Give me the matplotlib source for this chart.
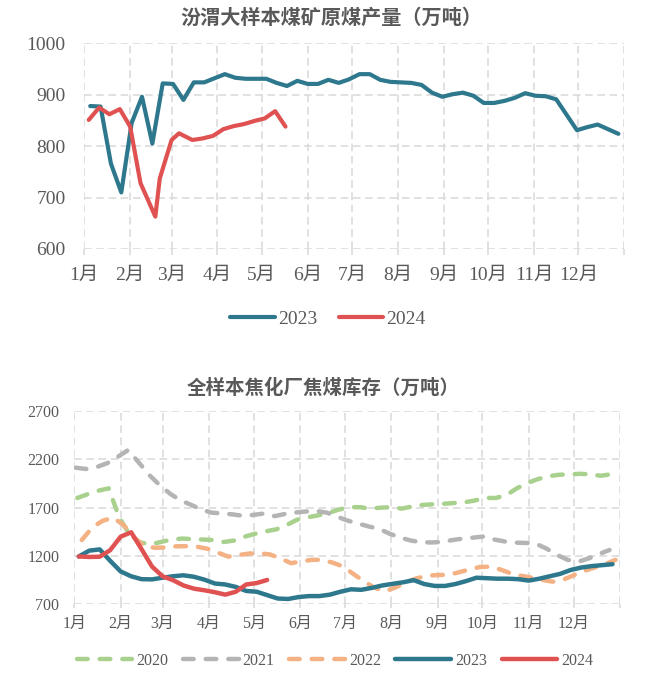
import matplotlib
matplotlib.use('Agg')
import matplotlib.pyplot as plt
import numpy as np

plt.rcParams['font.family'] = ['Liberation Serif', 'Noto Sans CJK SC', 'DejaVu Sans']

# ---------------- data ----------------
month_starts = [0, 31, 59, 90, 120, 151, 181, 212, 243, 273, 304, 334]
month_labels = ['1月', '2月', '3月', '4月', '5月', '6月', '7月', '8月', '9月', '10月', '11月', '12月']

title_top = '汾渭大样本煤矿原煤产量（万吨）'
title_bottom = '全样本焦化厂焦煤库存（万吨）'

# Top chart: raw coal output (weekly)
top_days_2023 = np.arange(4, 365, 7)
top_vals_2023 = [878, 877, 766, 710, 845, 896, 805, 922, 921, 890, 924, 924, 932, 940,
                 933, 931, 931, 931, 923, 917, 927, 921, 921, 929, 923, 930, 940, 940,
                 929, 925, 924, 923, 919, 904, 896, 901, 904, 898, 884, 884, 888, 894,
                 903, 898, 897, 891, 861, 831, 837, 842, 833, 824]
top_days_2024 = [3, 10, 17, 24, 31, 38, 48, 51, 59, 64, 73, 80, 87, 94, 101, 108, 115, 122, 129, 136]
top_vals_2024 = [851, 875, 862, 872, 838, 728, 663, 737, 812, 825, 812, 815, 820, 833,
                 839, 843, 849, 854, 868, 838]

# Bottom chart: coking coal inventory (weekly)
days_2020 = np.arange(2, 365, 7)
vals_2020 = [1800, 1840, 1875, 1900, 1600, 1420, 1340, 1320, 1345, 1370, 1380, 1375, 1370,
             1365, 1345, 1360, 1400, 1430, 1455, 1475, 1520, 1575, 1600, 1620, 1645, 1680,
             1705, 1705, 1690, 1700, 1705, 1690, 1712, 1728, 1735, 1740, 1748, 1755, 1775,
             1800, 1800, 1830, 1900, 1955, 1995, 2025, 2040, 2045, 2050, 2045, 2030, 2045]
days_2021 = np.arange(1, 365, 7)
vals_2021 = [2113, 2100, 2120, 2160, 2225, 2296, 2170, 2040, 1935, 1845, 1775, 1730, 1680,
             1648, 1640, 1630, 1615, 1625, 1640, 1612, 1635, 1650, 1660, 1665, 1648, 1605,
             1565, 1535, 1505, 1480, 1430, 1390, 1360, 1342, 1340, 1345, 1365, 1380, 1390,
             1402, 1370, 1350, 1338, 1335, 1325, 1275, 1210, 1160, 1140, 1175, 1220, 1262]
days_2022 = np.arange(5, 365, 7)
vals_2022 = [1365, 1495, 1565, 1596, 1520, 1390, 1300, 1285, 1288, 1300, 1302, 1296, 1275,
             1235, 1193, 1210, 1225, 1228, 1215, 1175, 1125, 1145, 1160, 1160, 1130, 1090,
             1010, 935, 870, 835, 875, 930, 969, 995, 1003, 1005, 1030, 1060, 1085, 1090,
             1060, 1020, 995, 975, 952, 934, 955, 1000, 1045, 1080, 1115, 1160]
days_2023 = np.arange(3, 365, 7)
vals_2023 = [1195, 1255, 1268, 1150, 1040, 990, 960, 958, 975, 990, 1000, 985, 955, 915,
             905, 880, 838, 830, 795, 760, 755, 775, 785, 785, 800, 830, 855, 850, 870, 895,
             912, 928, 950, 910, 890, 890, 910, 940, 975, 970, 965, 965, 960, 945, 965, 990,
             1015, 1055, 1080, 1095, 1105, 1115]
days_2024 = np.arange(3, 130, 7)
vals_2024 = [1195, 1190, 1192, 1260, 1400, 1445, 1270, 1090, 990, 950, 895, 862, 845, 825,
             800, 830, 905, 920, 952]

# ---------------- style ----------------
C_TEAL = '#2E788D'
C_RED = '#E05252'
C_GREEN = '#A9D18E'
C_GRAY = '#B4B4B4'
C_ORANGE = '#F4B183'
TXT = '#595959'
GRID = '#D9D9D9'

fig = plt.figure(figsize=(6.51, 6.81), dpi=100)
fig.patch.set_facecolor('white')

ax1 = fig.add_axes([84.3 / 651, 1 - 249 / 681, 540 / 651, 205.7 / 681])
ax2 = fig.add_axes([74.3 / 651, 1 - 604.3 / 681, 545.7 / 651, 193.3 / 681])


def style_axes(ax, ylim, yticks, fs, xpad, ypad, ticklen):
    ax.set_xlim(0, 365)
    ax.set_ylim(*ylim)
    ax.set_xticks(month_starts + [365])
    ax.set_xticklabels(month_labels + [''])
    ax.set_yticks(yticks)
    for s in ax.spines.values():
        s.set_visible(False)
    ax.set_axisbelow(True)
    ax.grid(True, color=GRID, lw=1.1, ls=(0, (5, 3)))
    ax.tick_params(axis='x', length=ticklen, width=1.1, color=GRID, pad=xpad,
                   labelsize=fs, labelcolor=TXT)
    ax.tick_params(axis='y', length=0, pad=ypad, labelsize=fs, labelcolor=TXT)


style_axes(ax1, (600, 1000), [600, 700, 800, 900, 1000], 14, 8.5, 13.5, 4.3)
style_axes(ax2, (700, 2700), [700, 1200, 1700, 2200, 2700], 11.5, 5.2, 10.8, 3)

lw_top = 3.0
ax1.plot(top_days_2023, top_vals_2023, color=C_TEAL, lw=lw_top, label='2023',
         solid_capstyle='round', solid_joinstyle='round')
ax1.plot(top_days_2024, top_vals_2024, color=C_RED, lw=lw_top, label='2024',
         solid_capstyle='round', solid_joinstyle='round')

lw_b = 3.2
dash = (2.4, 2.7)
for d, v, c, lab in [(days_2020, vals_2020, C_GREEN, '2020'),
                     (days_2021, vals_2021, C_GRAY, '2021'),
                     (days_2022, vals_2022, C_ORANGE, '2022')]:
    ax2.plot(d, v, color=c, lw=lw_b, label=lab, linestyle=(0, dash),
             dash_capstyle='round', dash_joinstyle='round')
ax2.plot(days_2023, vals_2023, color=C_TEAL, lw=lw_b, label='2023',
         solid_capstyle='round', solid_joinstyle='round')
ax2.plot(days_2024, vals_2024, color=C_RED, lw=lw_b, label='2024',
         solid_capstyle='round', solid_joinstyle='round')

fig.text(331 / 651, 1 - 17 / 681, title_top, ha='center', va='center', fontsize=14.5,
         color=TXT, fontweight='bold', family=['Noto Sans CJK SC', 'DejaVu Sans'])
fig.text(323 / 651, 1 - 388 / 681, title_bottom, ha='center', va='center', fontsize=14,
         color=TXT, fontweight='bold', family=['Noto Sans CJK SC', 'DejaVu Sans'])

h1, l1 = ax1.get_legend_handles_labels()
leg1 = fig.legend(h1, l1, loc='center', bbox_to_anchor=(328 / 651, 1 - 319 / 681),
                  ncol=2, frameon=False, fontsize=14, handlelength=2.3,
                  handletextpad=0.15, columnspacing=1.1, labelcolor=TXT)
h2, l2 = ax2.get_legend_handles_labels()
leg2 = fig.legend(h2, l2, loc='center', bbox_to_anchor=(335 / 651, 1 - 660.7 / 681),
                  ncol=5, frameon=False, fontsize=11.5, handlelength=3.5,
                  handletextpad=0.25, columnspacing=0.9, labelcolor=TXT)

fig.savefig('out.png', dpi=100, facecolor='white')
